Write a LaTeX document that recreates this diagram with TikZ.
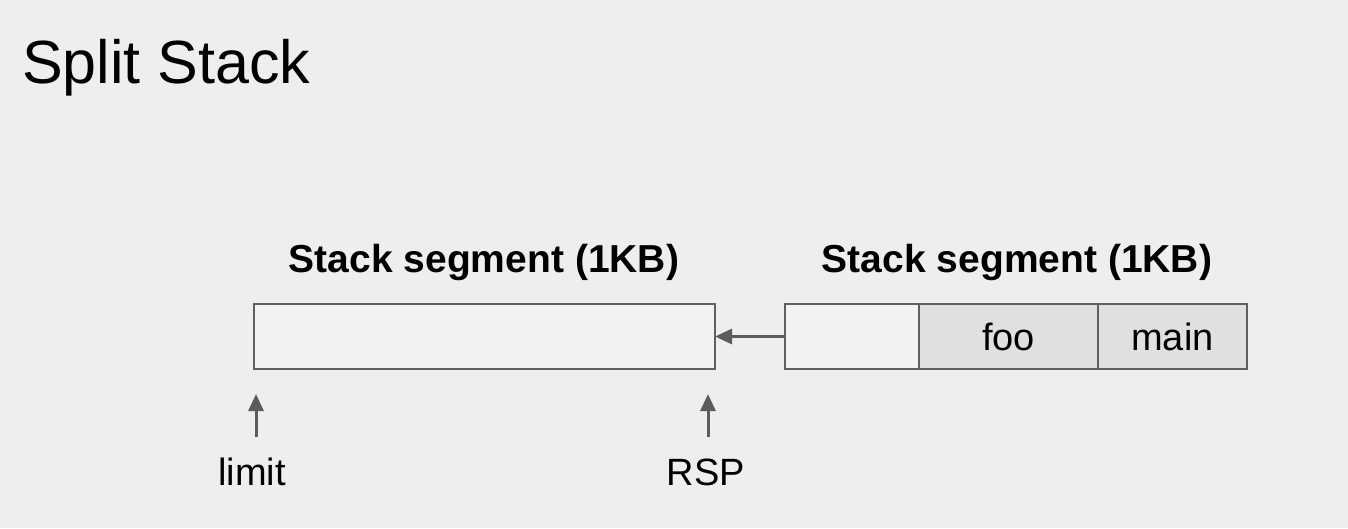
\documentclass[tikz,border=0pt]{standalone}
\usepackage{fontspec}
\setmainfont{Liberation Sans}
\usetikzlibrary{positioning,calc,arrows.meta}
\definecolor{slidebg}{RGB}{238,238,238}
\definecolor{boxline}{RGB}{96,96,96}
\definecolor{arrgray}{RGB}{92,92,92}
\definecolor{cellempty}{RGB}{242,242,242}
\definecolor{cellused}{RGB}{224,224,224}

\begin{document}
\begin{tikzpicture}[x=1pt,y=-1pt,
	cell/.style={rectangle, draw=boxline, line width=2.8pt, inner sep=0pt, outer sep=0pt, minimum height=65pt, font=\fontsize{38}{44}\selectfont},
	seglabel/.style={inner sep=0pt, font=\fontsize{39}{46}\selectfont\bfseries},
	ptrlabel/.style={inner sep=0pt, font=\fontsize{38}{44}\selectfont},
	arr/.style={draw=arrgray, line width=3pt, -{Triangle[length=17pt,width=15pt]}}]
		\fill[slidebg] (0,0) rectangle (1348,528);
		\useasboundingbox (0,0) rectangle (1348,528);
		\node[inner sep=0pt, anchor=base west, font=\fontsize{61}{70}\selectfont] (title) at (22,83) {Split Stack};
		% old segment
		\node[cell, fill=cellempty, anchor=north west, minimum width=461pt] (seg1) at (254,304) {};
		\node[seglabel, anchor=base] (seg1lab) at (484,272) {Stack segment (1KB)};
		% new segment
		\node[cell, fill=cellempty, anchor=north west, minimum width=134pt] (free) at (785,304) {};
		\node[cell, fill=cellused, right=0pt of free, minimum width=179pt] (foo) {foo};
		\node[cell, fill=cellused, right=0pt of foo, minimum width=149pt] (main) {main};
		\node[seglabel, anchor=base] (seg2lab) at (1017,272) {Stack segment (1KB)};
		\draw[arr] (free.west) -- (seg1.east);
		% pointers
		\node[ptrlabel, anchor=base] (limit) at (252,485) {limit};
		\node[ptrlabel, anchor=base] (rsp) at (706,485) {RSP};
		\coordinate (limtail) at (256,437);
		\coordinate (limtip) at (256,394);
		\coordinate (rsptail) at (708,437);
		\coordinate (rsptip) at (708,394);
		\draw[arr] (limtail) -- (limtip);
		\draw[arr] (rsptail) -- (rsptip);
\end{tikzpicture}
\end{document}
